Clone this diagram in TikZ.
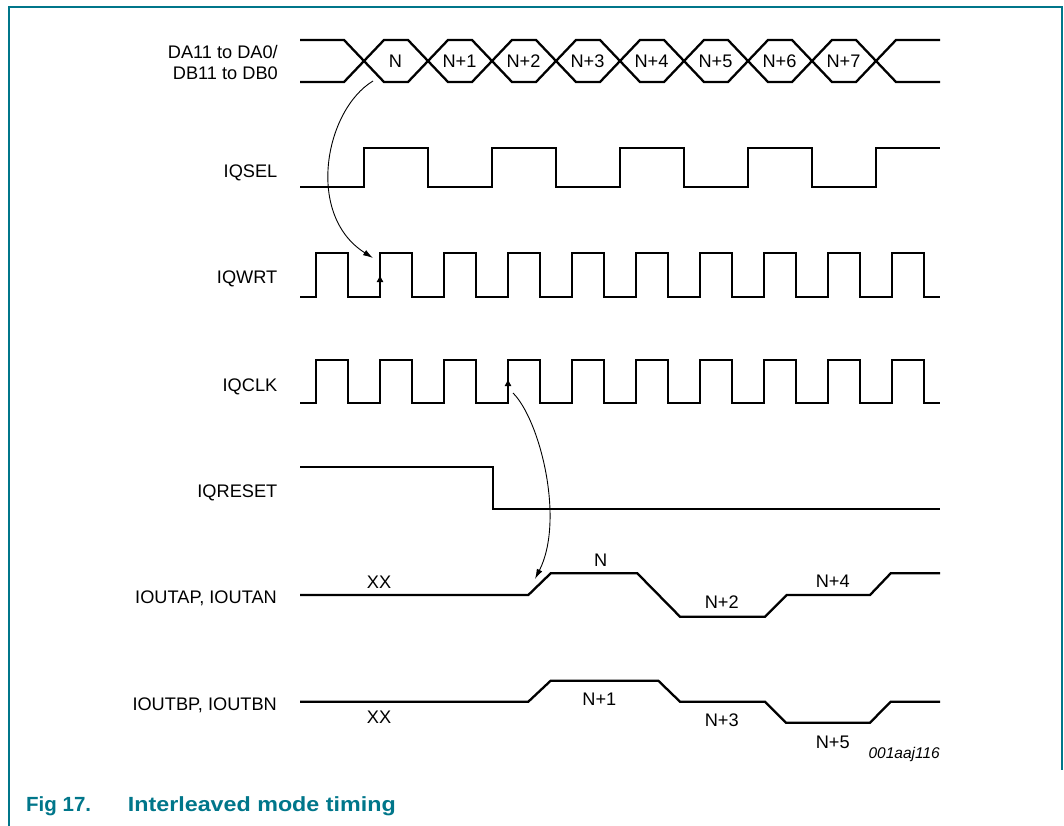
\documentclass[tikz,border=0pt]{standalone}
\usepackage{fontspec}
\setmainfont{Liberation Sans}
\usetikzlibrary{arrows.meta}
\definecolor{nxpteal}{RGB}{0,118,138}
\tikzset{
  wave/.style={line width=2.3pt, line join=miter},
  lbl/.style={font=\fontsize{18.2}{22}\selectfont, inner sep=0pt, text height=13.2pt, text depth=0pt},
  sname/.style={lbl, anchor=east},
  tagtext/.style={font=\fontsize{15.5}{18}\selectfont\itshape, inner sep=0pt, text height=11.3pt, text depth=0pt, anchor=east},
  figcap/.style={font=\fontsize{20.5}{24}\selectfont\bfseries, text=nxpteal, inner sep=0pt, text height=14.9pt, text depth=0pt, anchor=west},
  frameline/.style={draw=nxpteal, line width=2pt},
  curvearrow/.style={line width=0.9pt, -{Latex[length=10pt,width=6pt]}},
  edgetip/.style={line width=0.9pt, -{Latex[length=7pt,width=7pt]}}
}
\begin{document}
\begin{tikzpicture}[x=1pt,y=-1pt]
\useasboundingbox (0,0) rectangle (1064,826);
% frame
\draw[frameline] (9,826) -- (9,7) -- (1062,7) -- (1062,770);

% signal names
\node[sname] (nda) at (278,51.7) {DA11 to DA0/};
\node[sname] (ndb) at (278,73.3) {DB11 to DB0};
\node[sname] (nsel) at (277.5,170.7) {IQSEL};
\node[sname] (nwrt) at (277.5,277.3) {IQWRT};
\node[sname] (nclk) at (277.5,385) {IQCLK};
\node[sname] (nrst) at (277.5,490.7) {IQRESET};
\node[sname] (nouta) at (277,597.3) {IOUTAP, IOUTAN};
\node[sname] (noutb) at (277,704) {IOUTBP, IOUTBN};

% data bus
\draw[wave] (300,40) -- (344,40) -- (364,61) -- (344,82) -- (300,82);
\foreach \k/\t in {0/N,1/N+1,2/N+2,3/N+3,4/N+4,5/N+5,6/N+6,7/N+7}{
  \pgfmathsetmacro\c{364+64*\k}
  \draw[wave] (\c,61) -- (\c+20,40) -- (\c+44,40) -- (\c+64,61) -- (\c+44,82) -- (\c+20,82) -- cycle;
  \node[lbl] (bus\k) at (\c+31.5,61) {\t};
}
\draw[wave] (940,40) -- (896,40) -- (876,61) -- (896,82) -- (940,82);

% IQSEL
\draw[wave] (300,187) -| (364,148) -| (428,187) -| (492,148) -| (556,187) -| (620,148)
  -| (684,187) -| (748,148) -| (812,187) -| (876,148) -- (940,148);

% IQWRT
\draw[wave] (300,296.7) \foreach \k in {0,...,9}{ -| (316+64*\k,253.3) -| (348+64*\k,296.7) } -- (940,296.7);

% IQCLK
\draw[wave] (300,402.7) \foreach \k in {0,...,9}{ -| (316+64*\k,360) -| (348+64*\k,402.7) } -- (940,402.7);

% IQRESET
\draw[wave] (300,467.3) -- (492.7,467.3) -- (492.7,509.3) -- (940,509.3);

% IOUTAP, IOUTAN
\draw[wave] (300,595) -- (528.3,595) -- (550.7,573.3) -- (637.3,573.3) -- (680,616.7)
  -- (765,616.7) -- (786.7,595) -- (870,595) -- (890.7,573.3) -- (940,573.3);
\node[lbl] (axx) at (379,581.7) {XX};
\node[lbl] (an0) at (600.7,560) {N};
\node[lbl] (an2) at (721.7,601.7) {N+2};
\node[lbl] (an4) at (832.7,580.7) {N+4};

% IOUTBP, IOUTBN
\draw[wave] (300,701.7) -- (528.3,701.7) -- (550.7,680.7) -- (658.3,680.7) -- (680,701.7)
  -- (765,701.7) -- (786,722.7) -- (870,722.7) -- (890.7,701.7) -- (940,701.7);
\node[lbl] (bxx) at (379,717) {XX};
\node[lbl] (bn1) at (599.3,699.3) {N+1};
\node[lbl] (bn3) at (721.7,720) {N+3};
\node[lbl] (bn5) at (832.7,741.7) {N+5};

\node[tagtext] (tag) at (940,753) {001aaj116};

% causality arrows
\coordinate (a1s) at (373,81);
\coordinate (a1e) at (373,258);
\draw[curvearrow] (a1s) .. controls (325,110) and (305,215) .. (a1e);
\coordinate (w1s) at (380,292);
\coordinate (w1e) at (380,275);
\draw[edgetip] (w1s) -- (w1e);

\coordinate (c1s) at (508,396);
\coordinate (c1e) at (508,379);
\draw[edgetip] (c1s) -- (c1e);
\coordinate (a2s) at (513,393);
\coordinate (a2e) at (535,579);
\draw[curvearrow] (a2s) .. controls (540,420) and (565,520) .. (a2e);

% caption
\node[figcap] (fig) at (26,803.7) {Fig 17.};
\node[figcap] (title) at (127.7,803.7) {\scalebox{1.136}[1]{Interleaved mode timing}};
\end{tikzpicture}
\end{document}
